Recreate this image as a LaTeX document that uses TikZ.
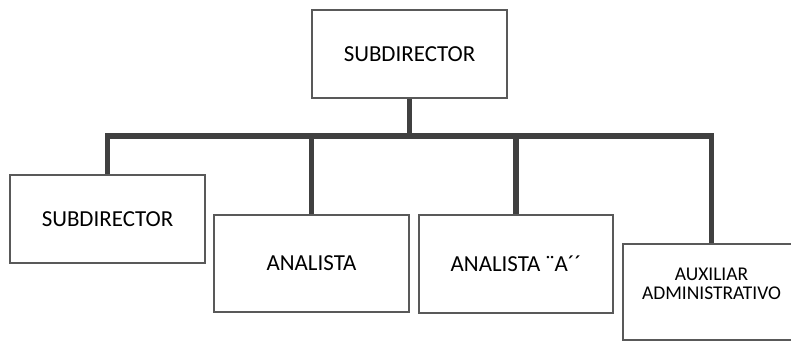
\documentclass[tikz,border=0pt]{standalone}
\usepackage{fontspec}
\setmainfont{Carlito}
\usetikzlibrary{positioning}

\begin{document}
\begin{tikzpicture}[x=0.75pt, y=-0.75pt,
        puesto/.style={draw=black!65, line width=1.1pt, fill=white, inner sep=0pt,
            font=\fontsize{17.2}{20}\selectfont},
        enlace/.style={draw=black!75, line width=3.8pt}]
                \useasboundingbox (0,0) rectangle (791,341);
                % cargos
                \node[puesto, minimum width=146.25pt, minimum height=66pt] (jefe) at (409.5,54) {SUBDIRECTOR};
                \node[puesto, minimum width=146.25pt, minimum height=66pt] (sub) at (107.5,219) {SUBDIRECTOR};
                \node[puesto, minimum width=146.25pt, minimum height=72.75pt] (ana) at (311.5,263.5) {ANALISTA};
                \node[puesto, minimum width=145.5pt, minimum height=73.5pt] (anaA) at (516,264) {ANALISTA ¨A´´};
                \node[puesto, minimum width=132.75pt, minimum height=72pt, align=center, text depth=12pt,
                    font=\fontsize{14.6}{14.5}\selectfont] (aux) at (711.5,292) {AUXILIAR\\ADMINISTRATIVO};
                % lineas
                \coordinate (bus) at (409.5,136);
                \draw[enlace] (jefe.south) -- (bus);
                \foreach \n in {sub,ana,anaA,aux}
                    \draw[enlace] (\n.north) |- (bus);
            \end{tikzpicture}
\end{document}
